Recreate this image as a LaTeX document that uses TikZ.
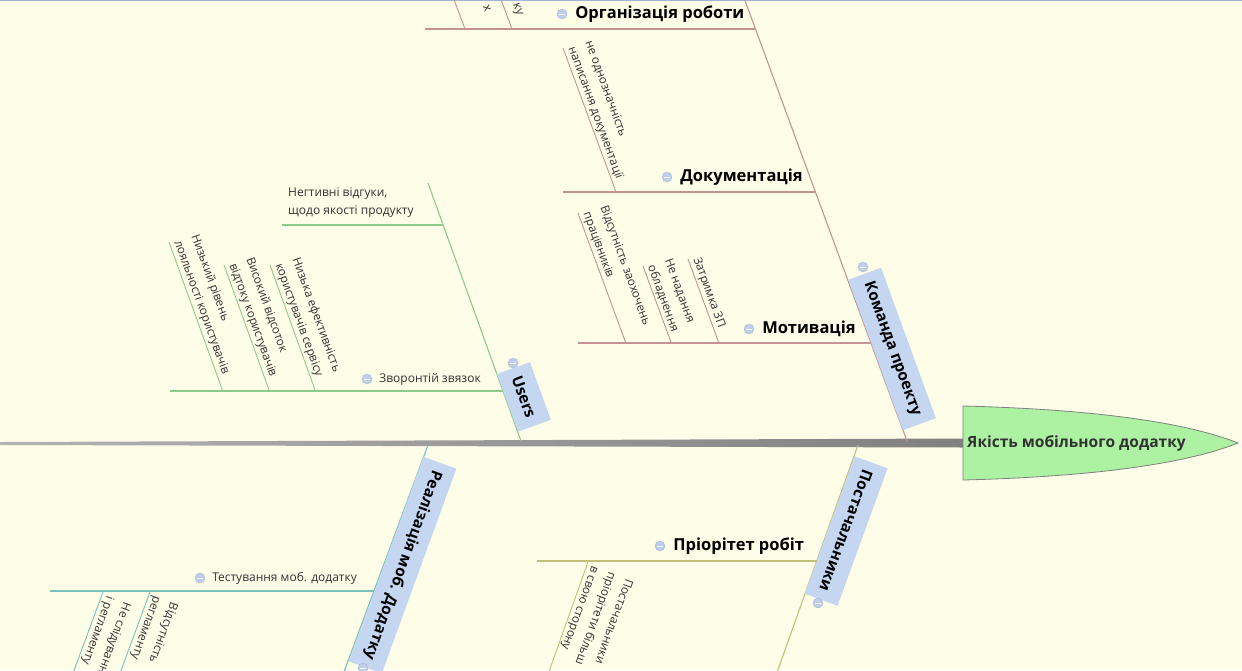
\documentclass[tikz,border=0pt]{standalone}
\usepackage{fontspec}
\setmainfont{Open Sans}
\usepackage{xcolor}
\usepackage{tikz}
\usetikzlibrary{positioning}

\definecolor{paper}{RGB}{254,253,232}
\definecolor{topedge}{RGB}{160,180,212}
\definecolor{teamline}{RGB}{196,146,146}
\definecolor{userline}{RGB}{140,202,140}
\definecolor{implline}{RGB}{120,194,186}
\definecolor{suppline}{RGB}{192,192,122}
\definecolor{boxblue}{RGB}{196,214,240}
\definecolor{dotblue}{RGB}{190,206,236}
\definecolor{headgreen}{RGB}{172,242,162}
\definecolor{spinegrey}{RGB}{128,128,128}
\definecolor{inkgrey}{RGB}{50,50,50}

\begin{document}
\begin{tikzpicture}[x=1pt,y=-1pt,
                    bone/.style={line width=1.1pt},
                    twig/.style={line width=1.6pt},
                    leaf/.style={line width=0.9pt},
                    catbox/.style={fill=boxblue,font=\bfseries\fontsize{15.5}{18}\selectfont,minimum height=35pt,inner xsep=9pt,anchor=south},
                    fold/.style={circle,fill=dotblue,draw=dotblue!85!black,line width=0.3pt,minimum size=10pt,inner sep=0pt,
                      path picture={\draw[white,line width=1pt] ([xshift=-3pt]path picture bounding box.center) -- ([xshift=3pt]path picture bounding box.center);}},
                    causebig/.style={font=\bfseries\fontsize{16.5}{18}\selectfont,inner sep=0pt},
                    causesmall/.style={font=\fontsize{12}{18}\selectfont,text=inkgrey,inner sep=0pt},
                    note/.style={font=\fontsize{11.8}{18}\selectfont,text=inkgrey,align=left,inner sep=2pt,anchor=south west}]

  \useasboundingbox (0,0) rectangle (1242,670);
  \clip (0,0) rectangle (1242,670);
  \fill[paper] (0,0) rectangle (1242,670);
  \draw[topedge,line width=1.4pt] (0,0.7) -- (1242,0.7);

  % spine and head
  \shade[left color=spinegrey!60,right color=spinegrey] (0,442) -- (963,438.5) -- (963,447.5) -- (0,445) -- cycle;
  \filldraw[fill=headgreen,draw=gray,line width=0.8pt] (963,406) -- (963,480)
    .. controls (1080,477) and (1180,466) .. (1238,443)
    .. controls (1180,420) and (1080,409) .. (963,406) -- cycle;
  \node[font=\bfseries\fontsize{15.5}{18}\selectfont,text=inkgrey,anchor=west,inner sep=0pt] (head) at (967,443) {Якість мобільного додатку};

  % Команда проекту
  \coordinate (teamRoot) at (907,441);
  \coordinate (teamTip) at (743,-5);
  \draw[bone,teamline] (teamRoot) -- (teamTip);
  \node[catbox,rotate=-70] (team) at (875.4,355) {Команда проекту};
  \node[fold] (fTeam) at (863,267) {};

  \coordinate (orgA) at (425,29);
  \coordinate (orgB) at (755.5,29);
  \draw[twig,teamline] (orgA) -- (orgB);
  \node[fold] (fOrg) at (562,14) {};
  \node[causebig,right=8pt of fOrg] (org) {Організація роботи};
  \coordinate (o1a) at (453,-3);
  \coordinate (o1b) at (465,29);
  \coordinate (o2a) at (500,-3);
  \coordinate (o2b) at (512,29);
  \draw[leaf,teamline] (o1a) -- (o1b);
  \draw[leaf,teamline] (o2a) -- (o2b);
  \node[causesmall,rotate=-70] (o1) at (487,8) {х};
  \node[causesmall,rotate=-70] (o2) at (517,10) {ку};

  \coordinate (docA) at (563,192);
  \coordinate (docB) at (815.4,192);
  \draw[twig,teamline] (docA) -- (docB);
  \node[fold] (fDoc) at (667,177) {};
  \node[causebig,right=8pt of fDoc] (doc) {Документація};
  \coordinate (d1a) at (563,48);
  \coordinate (d1b) at (616,192);
  \draw[leaf,teamline] (d1a) -- (d1b);
  \node[note,rotate=-70] (d1) at (d1a) {не однозначність\\написання документації};

  \coordinate (motA) at (578,343);
  \coordinate (motB) at (871,343);
  \draw[twig,teamline] (motA) -- (motB);
  \node[fold] (fMot) at (749,329) {};
  \node[causebig,right=8pt of fMot] (mot) {Мотивація};
  \coordinate (m1a) at (578,213);
  \coordinate (m1b) at (625.8,343);
  \coordinate (m2a) at (643,266);
  \coordinate (m2b) at (671.3,343);
  \coordinate (m3a) at (688,259);
  \coordinate (m3b) at (718.9,343);
  \draw[leaf,teamline] (m1a) -- (m1b);
  \draw[leaf,teamline] (m2a) -- (m2b);
  \draw[leaf,teamline] (m3a) -- (m3b);
  \node[note,rotate=-70] (m1) at (m1a) {Відсутність заохочень\\працівників};
  \node[note,rotate=-70] (m2) at (m2a) {Не надання\\обладнення};
  \node[note,rotate=-70] (m3) at (m3a) {Затримка ЗП};

  % Users
  \coordinate (userRoot) at (521,441);
  \coordinate (userTip) at (428,183);
  \draw[bone,userline] (userRoot) -- (userTip);
  \node[catbox,rotate=-70] (users) at (507.3,403) {Users};
  \node[fold] (fUsers) at (513,363) {};

  \coordinate (negA) at (282,225);
  \coordinate (negB) at (443.1,225);
  \draw[twig,userline] (negA) -- (negB);
  \node[causesmall,align=left,anchor=north west] (neg) at (288,187) {Негтивні відгуки,\\щодо якості продукту};

  \coordinate (fbA) at (170,391);
  \coordinate (fbB) at (503,391);
  \draw[twig,userline] (fbA) -- (fbB);
  \node[fold] (fFb) at (367,379) {};
  \node[causesmall,right=7pt of fFb] (fb) {Зворонтій звязок};
  \coordinate (u1a) at (169,242);
  \coordinate (u1b) at (222.7,391);
  \coordinate (u2a) at (224,265);
  \coordinate (u2b) at (269.4,391);
  \coordinate (u3a) at (270,265);
  \coordinate (u3b) at (315.4,391);
  \draw[leaf,userline] (u1a) -- (u1b);
  \draw[leaf,userline] (u2a) -- (u2b);
  \draw[leaf,userline] (u3a) -- (u3b);
  \node[note,rotate=-70] (u1) at (u1a) {Низький рівень\\лояльності користувачів};
  \node[note,rotate=-70] (u2) at (u2a) {Високий відсоток\\відтоку користувачів};
  \node[note,rotate=-70] (u3) at (u3a) {Низька ефективність\\користувачів сервісу};

  % Реалізація моб. Додатку
  \coordinate (implRoot) at (428,445);
  \coordinate (implTip) at (341,680);
  \draw[bone,implline] (implRoot) -- (implTip);
  \node[catbox,rotate=-110] (impl) at (386,559) {Реалізація моб. Додатку};
  \node[fold] (fImpl) at (363,668) {};

  \coordinate (testA) at (50,591);
  \coordinate (testB) at (374.1,591);
  \draw[twig,implline] (testA) -- (testB);
  \node[fold] (fTest) at (200,578) {};
  \node[causesmall,right=7pt of fTest] (test) {Тестування моб. додатку};
  \coordinate (t1a) at (103,592);
  \coordinate (t1b) at (70.5,680);
  \coordinate (t2a) at (150,592);
  \coordinate (t2b) at (117.5,680);
  \draw[leaf,implline] (t1a) -- (t1b);
  \draw[leaf,implline] (t2a) -- (t2b);
  \node[note,rotate=-110] (t1) at (t1a) {Не слідування\\і регламенту};
  \node[note,rotate=-110] (t2) at (t2a) {Відсутність\\регламенту};

  % Постачальники
  \coordinate (suppRoot) at (858,445);
  \coordinate (suppTip) at (774.3,680);
  \draw[bone,suppline] (suppRoot) -- (suppTip);
  \node[catbox,rotate=-110] (supp) at (829.5,525) {Постачальники};
  \node[fold] (fSupp) at (818,603) {};

  \coordinate (prioA) at (537,561);
  \coordinate (prioB) at (816.7,561);
  \draw[twig,suppline] (prioA) -- (prioB);
  \node[fold] (fPrio) at (660,546) {};
  \node[causebig,right=8pt of fPrio] (prio) {Пріорітет робіт};
  \coordinate (p1a) at (588,562);
  \coordinate (p1b) at (546,680);
  \draw[leaf,suppline] (p1a) -- (p1b);
  \node[note,rotate=-110] (p1) at (p1a) {Постачальники\\пріорітети більш\\в свою сторону};

\end{tikzpicture}
\end{document}
